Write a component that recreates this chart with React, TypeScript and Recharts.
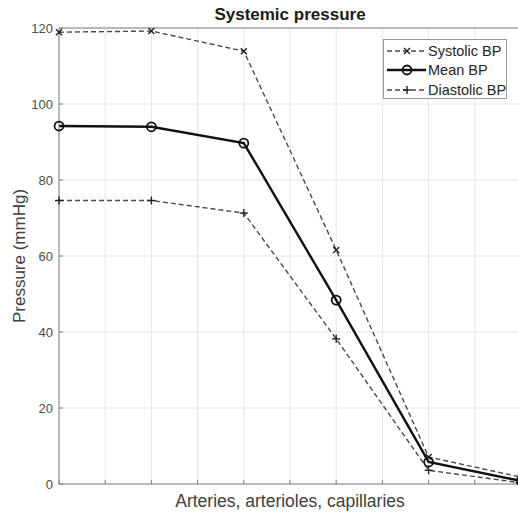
import React from "react";
import {
  LineChart,
  Line,
  XAxis,
  YAxis,
  CartesianGrid,
  ReferenceLine,
} from "recharts";

const positions = [0, 2, 4, 6, 8, 10];
const systolic = [118.9, 119.2, 113.9, 61.6, 7.1, 1.8];
const mean = [94.2, 94.0, 89.7, 48.4, 5.8, 0.8];
const diastolic = [74.6, 74.6, 71.3, 38.2, 3.6, 0.3];
const yTicks = [0, 20, 40, 60, 80, 100, 120];
const xTicks = [0, 1, 2, 3, 4, 5, 6, 7, 8, 9, 10];

const chartData = positions.map((x, i) => ({
  x,
  systolic: systolic[i],
  mean: mean[i],
  diastolic: diastolic[i],
}));

const FONT = "'Liberation Sans', Arial, Helvetica, sans-serif";
const AXIS = "#808080";

const Cross = (props: any) => {
  const { cx, cy, index } = props;
  if (cx == null || cy == null) return <g key={index} />;
  const s = 3;
  return (
    <g key={"c" + index} stroke="#222" strokeWidth={1.4}>
      <line x1={cx - s} y1={cy - s} x2={cx + s} y2={cy + s} />
      <line x1={cx - s} y1={cy + s} x2={cx + s} y2={cy - s} />
    </g>
  );
};

const Plus = (props: any) => {
  const { cx, cy, index } = props;
  if (cx == null || cy == null) return <g key={index} />;
  const s = 4;
  return (
    <g key={"p" + index} stroke="#222" strokeWidth={1.4}>
      <line x1={cx - s} y1={cy} x2={cx + s} y2={cy} />
      <line x1={cx} y1={cy - s} x2={cx} y2={cy + s} />
    </g>
  );
};

const Circle = (props: any) => {
  const { cx, cy, index } = props;
  if (cx == null || cy == null) return <g key={index} />;
  return (
    <circle
      key={"o" + index}
      cx={cx}
      cy={cy}
      r={4.5}
      fill="none"
      stroke="#111"
      strokeWidth={1.8}
    />
  );
};

const LegendRow = ({ kind, label }: { kind: string; label: string }) => (
  <div
    style={{
      display: "flex",
      alignItems: "center",
      height: 19.5,
      whiteSpace: "nowrap",
    }}
  >
    <svg width={41} height={14} style={{ marginRight: 1, flexShrink: 0 }}>
      {kind === "mean" ? (
        <line x1={1} y1={7} x2={40} y2={7} stroke="#111" strokeWidth={2.4} />
      ) : (
        <line
          x1={1}
          y1={7}
          x2={40}
          y2={7}
          stroke="#4a4a4a"
          strokeWidth={1.4}
          strokeDasharray="5 3"
        />
      )}
      {kind === "sys" && <Cross cx={21} cy={7} index={0} />}
      {kind === "mean" && <Circle cx={21} cy={7} index={0} />}
      {kind === "dia" && <Plus cx={21} cy={7} index={0} />}
    </svg>
    <span>{label}</span>
  </div>
);

export default function App() {
  return (
    <div
      style={{
        position: "absolute",
        left: 0,
        top: 0,
        width: 518,
        height: 513,
        overflow: "hidden",
        background: "#fff",
        fontFamily: FONT,
      }}
    >
      <LineChart
        width={530}
        height={513}
        data={chartData}
        margin={{ top: 28, right: 9, left: 0, bottom: 0 }}
      >
        <CartesianGrid stroke="#e6e6e6" strokeWidth={1} />
        <XAxis
          dataKey="x"
          type="number"
          domain={[0, 10]}
          ticks={xTicks}
          height={29}
          tickFormatter={() => ""}
          tickSize={-4}
          stroke={AXIS}
        />
        <XAxis
          xAxisId="top"
          orientation="top"
          type="number"
          domain={[0, 10]}
          ticks={xTicks}
          height={0}
          tickFormatter={() => ""}
          tickSize={-4}
          stroke={AXIS}
        />
        <YAxis
          type="number"
          domain={[0, 120]}
          ticks={yTicks}
          width={59}
          tickSize={-4}
          tickMargin={10}
          stroke={AXIS}
          tick={{ fill: "#4d4d4d", fontSize: 13, fontFamily: FONT }}
        />
        <ReferenceLine y={120} stroke={AXIS} />
        <Line
          dataKey="systolic"
          stroke="#4a4a4a"
          strokeWidth={1.4}
          strokeDasharray="5 3"
          dot={Cross}
          activeDot={false}
          isAnimationActive={false}
        />
        <Line
          dataKey="diastolic"
          stroke="#4a4a4a"
          strokeWidth={1.4}
          strokeDasharray="5 3"
          dot={Plus}
          activeDot={false}
          isAnimationActive={false}
        />
        <Line
          dataKey="mean"
          stroke="#111"
          strokeWidth={2.4}
          dot={Circle}
          activeDot={false}
          isAnimationActive={false}
        />
      </LineChart>

      <div
        style={{
          position: "absolute",
          left: 0,
          top: 5,
          width: 580,
          textAlign: "center",
          fontWeight: "bold",
          fontSize: 17,
          color: "#1a1a1a",
        }}
      >
        Systemic pressure
      </div>

      <div
        style={{
          position: "absolute",
          left: 0,
          top: 491,
          width: 580,
          textAlign: "center",
          fontSize: 17.5,
          color: "#404040",
        }}
      >
        Arteries, arterioles, capillaries
      </div>

      <div
        style={{
          position: "absolute",
          left: 20,
          top: 256,
          transform: "translate(-50%, -50%) rotate(-90deg)",
          whiteSpace: "nowrap",
          fontSize: 17,
          color: "#404040",
        }}
      >
        Pressure (mmHg)
      </div>

      <div
        style={{
          position: "absolute",
          left: 383,
          top: 39,
          width: 124,
          height: 60,
          border: "1px solid #999",
          background: "#fff",
          padding: "1px 0 0 2px",
          boxSizing: "border-box",
          fontSize: 14.5,
          color: "#262626",
        }}
      >
        <LegendRow kind="sys" label="Systolic BP" />
        <LegendRow kind="mean" label="Mean BP" />
        <LegendRow kind="dia" label="Diastolic BP" />
      </div>
    </div>
  );
}
